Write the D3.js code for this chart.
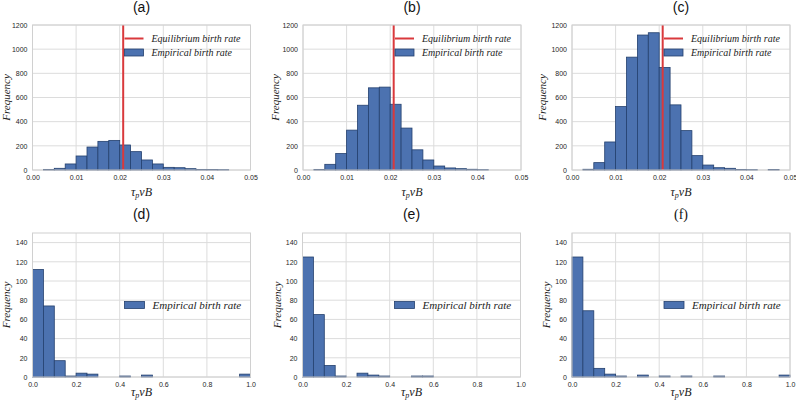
<!DOCTYPE html>
<html><head><meta charset="utf-8">
<script src="https://cdn.jsdelivr.net/npm/d3@7"></script>
<style>body{margin:0;background:#fff}svg{display:block}</style>
</head><body><svg id="c" width="796" height="401"></svg>
<script>
// ---- data ----
const panelLabels = ["(a)","(b)","(c)","(d)","(e)","(f)"];
const topTicksX = [0.00,0.01,0.02,0.03,0.04,0.05];
const topTicksY = [0,200,400,600,800,1000,1200];
const botTicksX = [0.0,0.2,0.4,0.6,0.8,1.0];
const botTicksY = [0,20,40,60,80,100,120,140];
const topBinWidth = 0.0025;
const botBinWidth = 0.05;
const countsA = [0,5,14,50,116,190,237,245,207,152,83,50,22,19,11,5,4,3,0,0];
const countsB = [0,5,47,136,330,536,680,686,544,347,167,83,33,17,11,6,3,0,0,0];
const countsC = [0,6,61,232,525,934,1117,1136,849,539,326,119,41,19,14,5,3,0,4,0];
const countsD = [112,74,17,1,4,3,0,0,1,0,2,0,0,0,0,0,0,0,0,3];
const countsE = [125,65,12,1,0,4,2,1,0,0,1,1,0,0,0,0,0,0,0,0];
const countsF = [125,69,9,3,1,0,2,0,1,0,1,0,0,1,0,0,0,0,0,2];
const equilibriumRate = 0.0208;
const legendEq = "Equilibrium birth rate";
const legendEmp = "Empirical birth rate";
const yLabel = "Frequency";

// ---- layout ----
const svg = d3.select("#c");
const W = 218;
const layouts = [
  {left:32.5, top:25, bottom:170, counts:countsA, bw:topBinWidth, xd:[0,0.05], yd:[0,1200], tx:topTicksX, ty:topTicksY, fmt:d3.format(".2f"), eq:true, ylx:9.5, lfont:10, titleY:12, titleFont:"Liberation Sans", xly:196},
  {left:303, top:25, bottom:170, counts:countsB, bw:topBinWidth, xd:[0,0.05], yd:[0,1200], tx:topTicksX, ty:topTicksY, fmt:d3.format(".2f"), eq:true, ylx:279, lfont:10, titleY:12, titleFont:"Liberation Sans", xly:196},
  {left:572, top:25, bottom:170, counts:countsC, bw:topBinWidth, xd:[0,0.05], yd:[0,1200], tx:topTicksX, ty:topTicksY, fmt:d3.format(".2f"), eq:true, ylx:546, lfont:10, titleY:12, titleFont:"Liberation Sans", xly:196},
  {left:32.5, top:233, bottom:377, counts:countsD, bw:botBinWidth, xd:[0,1], yd:[0,150], tx:botTicksX, ty:botTicksY, fmt:d3.format(".1f"), eq:false, ylx:9.5, lfont:11, titleY:219, titleFont:"Liberation Sans", xly:396},
  {left:302.5, top:233, bottom:377, counts:countsE, bw:botBinWidth, xd:[0,1], yd:[0,150], tx:botTicksX, ty:botTicksY, fmt:d3.format(".1f"), eq:false, ylx:280.5, lfont:11, titleY:219, titleFont:"Liberation Sans", xly:396},
  {left:572, top:233, bottom:377, counts:countsF, bw:botBinWidth, xd:[0,1], yd:[0,150], tx:botTicksX, ty:botTicksY, fmt:d3.format(".1f"), eq:false, ylx:550, lfont:11, titleY:219, titleFont:"Liberation Serif", xly:396}
];

const gridCol = "#dcdcdc";
const barFill = "#4c72b0";
const barStroke = "#24406e";
const redCol = "#d9393c";
const tickFont = "Liberation Sans, Arial, sans-serif";
const mathFont = "Liberation Serif, Times New Roman, serif";

layouts.forEach((L, i) => {
  const x = d3.scaleLinear().domain(L.xd).range([L.left, L.left + W]);
  const y = d3.scaleLinear().domain(L.yd).range([L.bottom, L.top]);
  const g = svg.append("g");

  // title
  g.append("text").attr("x", L.left + W/2).attr("y", L.titleY)
    .attr("text-anchor","middle").attr("font-family", L.titleFont + ", sans-serif")
    .attr("font-size", 14).attr("fill","#111").text(panelLabels[i]);

  // grid
  g.selectAll(".gx").data(L.tx).enter().append("line")
    .attr("x1", d=>x(d)).attr("x2", d=>x(d)).attr("y1", L.top).attr("y2", L.bottom)
    .attr("stroke", gridCol).attr("stroke-width", 1);
  g.selectAll(".gy").data(L.ty).enter().append("line")
    .attr("x1", L.left).attr("x2", L.left + W).attr("y1", d=>y(d)).attr("y2", d=>y(d))
    .attr("stroke", gridCol).attr("stroke-width", 1);

  // bars
  const bins = L.counts.map((c, k) => ({x0: k*L.bw, x1: (k+1)*L.bw, c}));
  g.selectAll(".bar").data(bins.filter(b => b.c > 0)).enter().append("rect")
    .attr("x", d=>x(d.x0)).attr("width", d=>x(d.x1)-x(d.x0))
    .attr("y", d=>y(d.c)).attr("height", d=>y(0)-y(d.c))
    .attr("fill", barFill).attr("stroke", barStroke).attr("stroke-width", 0.8);

  // equilibrium line
  if (L.eq) {
    g.append("line").attr("x1", x(equilibriumRate)).attr("x2", x(equilibriumRate))
      .attr("y1", L.top).attr("y2", L.bottom).attr("stroke", redCol).attr("stroke-width", 2);
  }

  // frame
  g.append("rect").attr("x", L.left).attr("y", L.top).attr("width", W).attr("height", L.bottom - L.top)
    .attr("fill","none").attr("stroke","#d0d0d0").attr("stroke-width",1);

  // tick labels via axes
  const ax = d3.axisBottom(x).tickValues(L.tx).tickFormat(L.fmt).tickSize(0).tickPadding(5);
  const axG = g.append("g").attr("transform", `translate(0,${L.bottom})`).call(ax);
  const ay = d3.axisLeft(y).tickValues(L.ty).tickFormat(d3.format("d")).tickSize(0).tickPadding(5);
  const ayG = g.append("g").attr("transform", `translate(${L.left},0)`).call(ay);
  [axG, ayG].forEach(a => {
    a.select(".domain").remove();
    a.selectAll("text").attr("font-family", tickFont).attr("font-size", 7).attr("fill", "#262626");
  });

  // y label
  g.append("text").attr("transform", `translate(${L.ylx},${(L.top+L.bottom)/2}) rotate(-90)`)
    .attr("text-anchor","middle").attr("font-family", mathFont).attr("font-style","italic")
    .attr("font-size", 11).attr("fill","#222").text(yLabel);

  // x label: tau_p nu B
  const xl = g.append("text").attr("x", L.left + W/2).attr("y", L.xly)
    .attr("text-anchor","middle").attr("font-family", mathFont).attr("font-style","italic")
    .attr("font-size", 12).attr("fill","#222");
  xl.append("tspan").text("τ");
  xl.append("tspan").attr("dy", 2).attr("font-size", 8).text("p");
  xl.append("tspan").attr("dy", -2).text("νB");

  // legend
  const lx = L.left + 92;
  if (L.eq) {
    const ly1 = 38.5, ly2 = 52.5;
    g.append("line").attr("x1", lx).attr("x2", lx + 19).attr("y1", ly1).attr("y2", ly1)
      .attr("stroke", redCol).attr("stroke-width", 2);
    g.append("text").attr("x", lx + 27).attr("y", ly1 + 3.5).attr("font-family", mathFont)
      .attr("font-style","italic").attr("font-size", L.lfont).attr("fill","#222").text(legendEq);
    g.append("rect").attr("x", lx).attr("y", ly2 - 3.5).attr("width", 19).attr("height", 7)
      .attr("fill", barFill).attr("stroke", barStroke).attr("stroke-width", 0.8);
    g.append("text").attr("x", lx + 27).attr("y", ly2 + 3.5).attr("font-family", mathFont)
      .attr("font-style","italic").attr("font-size", L.lfont).attr("fill","#222").text(legendEmp);
  } else {
    const ly = 305;
    g.append("rect").attr("x", lx).attr("y", ly - 3.5).attr("width", 20).attr("height", 7)
      .attr("fill", barFill).attr("stroke", barStroke).attr("stroke-width", 0.8);
    g.append("text").attr("x", lx + 28).attr("y", ly + 4).attr("font-family", mathFont)
      .attr("font-style","italic").attr("font-size", L.lfont).attr("fill","#222").text(legendEmp);
  }
});
</script></body></html>
